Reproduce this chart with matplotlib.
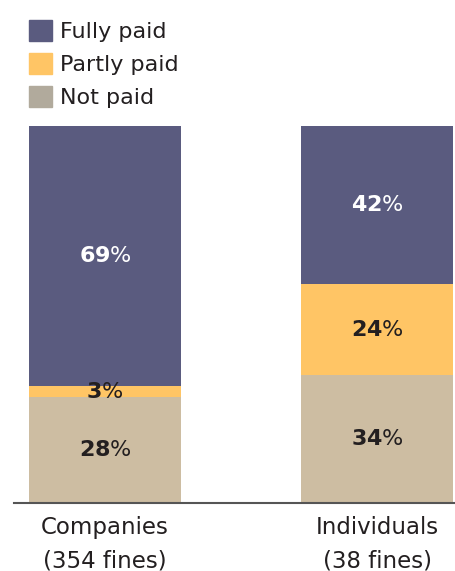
import matplotlib
matplotlib.use('Agg')
import matplotlib.pyplot as plt
from matplotlib.patches import Patch

# share of fines by payment status (percent)
groups = ['Companies\n(354 fines)', 'Individuals\n(38 fines)']
not_paid = [28, 34]
partly_paid = [3, 24]
fully_paid = [69, 42]

c_full = '#5a5b7f'
c_part = '#ffc565'
c_not = '#cdbda2'
c_not_key = '#b1aa9c'
ink = '#231f20'

fig = plt.figure(figsize=(4.55, 5.71), dpi=100)
ax = fig.add_axes([14/455, 68/571, 441/455, 377/571])

x = [0, 1]
w = 0.559
b1 = ax.bar(x, not_paid, w, color=c_not)
b2 = ax.bar(x, partly_paid, w, bottom=not_paid, color=c_part)
base = [a + b for a, b in zip(not_paid, partly_paid)]
b3 = ax.bar(x, fully_paid, w, bottom=base, color=c_full)

def label(vals, bottoms, color):
    for xi, v, b in zip(x, vals, bottoms):
        ax.text(xi, b + v/2, r'$\mathbf{%d}$%%' % v, ha='center', va='center',
                fontsize=16, color=color)

label(not_paid, [0, 0], ink)
label(partly_paid, not_paid, ink)
label(fully_paid, base, 'white')

ax.set_xlim(-91/272, 1 + 78/272)
ax.set_ylim(0, 100)
for s in ['left', 'right', 'top']:
    ax.spines[s].set_visible(False)
ax.spines['bottom'].set_color('#555555')
ax.spines['bottom'].set_linewidth(1.5)
ax.set_yticks([])
ax.set_xticks(x)
ax.set_xticklabels(groups, fontsize=16.5, color=ink, linespacing=1.55)
ax.tick_params(axis='x', length=0, pad=9.5)

handles = [Patch(color=c_full), Patch(color=c_part), Patch(color=c_not_key)]
fig.legend(handles, ['Fully paid', 'Partly paid', 'Not paid'],
           loc='upper left', bbox_to_anchor=(29/455, 1 - 20/571),
           frameon=False, fontsize=16, borderpad=0, borderaxespad=0,
           handlelength=1.05, handleheight=1.05, handletextpad=0.35,
           labelspacing=0.51, labelcolor=ink)

fig.savefig('out.png', dpi=100)
